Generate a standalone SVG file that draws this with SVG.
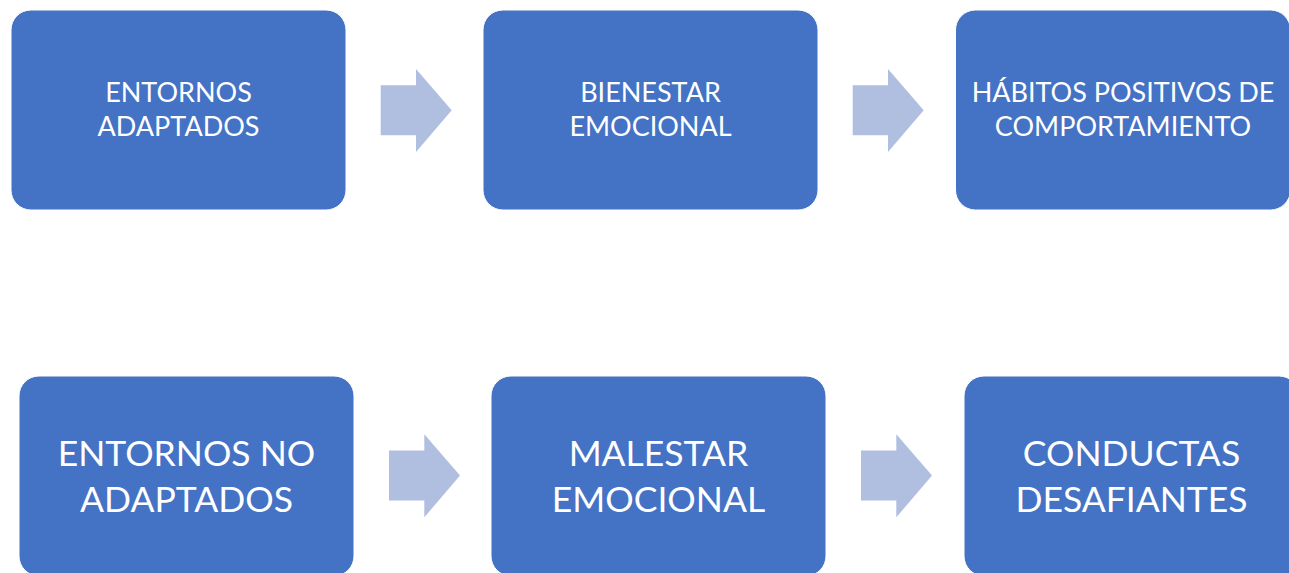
<svg xmlns="http://www.w3.org/2000/svg" width="1289" height="573" viewBox="0 0 1289 573">
<defs>
<style>
.box{fill:#4472C4;stroke:#ffffff;stroke-width:1}
.arr{fill:#B0BEE0}
.t{font-family:Lato,"Open Sans","Liberation Sans",sans-serif;fill:#ffffff;text-anchor:middle}
.s{font-size:27px}
.l{font-size:35.5px}
</style>
<path id="arrow" d="M0,16.3 H35.3 V0 L71,41.3 L35.3,83 V66.3 H0 Z"/>
</defs>
<rect width="1289" height="573" fill="#ffffff"/>
<g id="connectors">
<use href="#arrow" class="arr" x="380.7" y="69"/>
<use href="#arrow" class="arr" x="852.7" y="69"/>
<use href="#arrow" class="arr" x="389" y="434.3"/>
<use href="#arrow" class="arr" x="861" y="434.3"/>
</g>
<g id="n1">
<rect class="box" x="11" y="10" width="335" height="200" rx="20"/>
<text class="t s" x="178.5" y="102">ENTORNOS</text>
<text class="t s" x="178.5" y="136">ADAPTADOS</text>
</g>
<g id="n2">
<rect class="box" x="483" y="10" width="335" height="200" rx="20"/>
<text class="t s" x="650.5" y="102">BIENESTAR</text>
<text class="t s" x="650.5" y="136">EMOCIONAL</text>
</g>
<g id="n3">
<rect class="box" x="955.5" y="10" width="335" height="200" rx="20"/>
<text class="t s" x="1123" y="102">HÁBITOS POSITIVOS DE</text>
<text class="t s" x="1123" y="136">COMPORTAMIENTO</text>
</g>
<g id="n4">
<rect class="box" x="19" y="376" width="335" height="200" rx="20"/>
<text class="t l" x="186.5" y="466">ENTORNOS NO</text>
<text class="t l" x="186.5" y="512">ADAPTADOS</text>
</g>
<g id="n5">
<rect class="box" x="491" y="376" width="335" height="200" rx="20"/>
<text class="t l" x="658.5" y="466">MALESTAR</text>
<text class="t l" x="658.5" y="512">EMOCIONAL</text>
</g>
<g id="n6">
<rect class="box" x="964" y="376" width="335" height="200" rx="20"/>
<text class="t l" x="1131.5" y="466">CONDUCTAS</text>
<text class="t l" x="1131.5" y="512">DESAFIANTES</text>
</g>
</svg>
